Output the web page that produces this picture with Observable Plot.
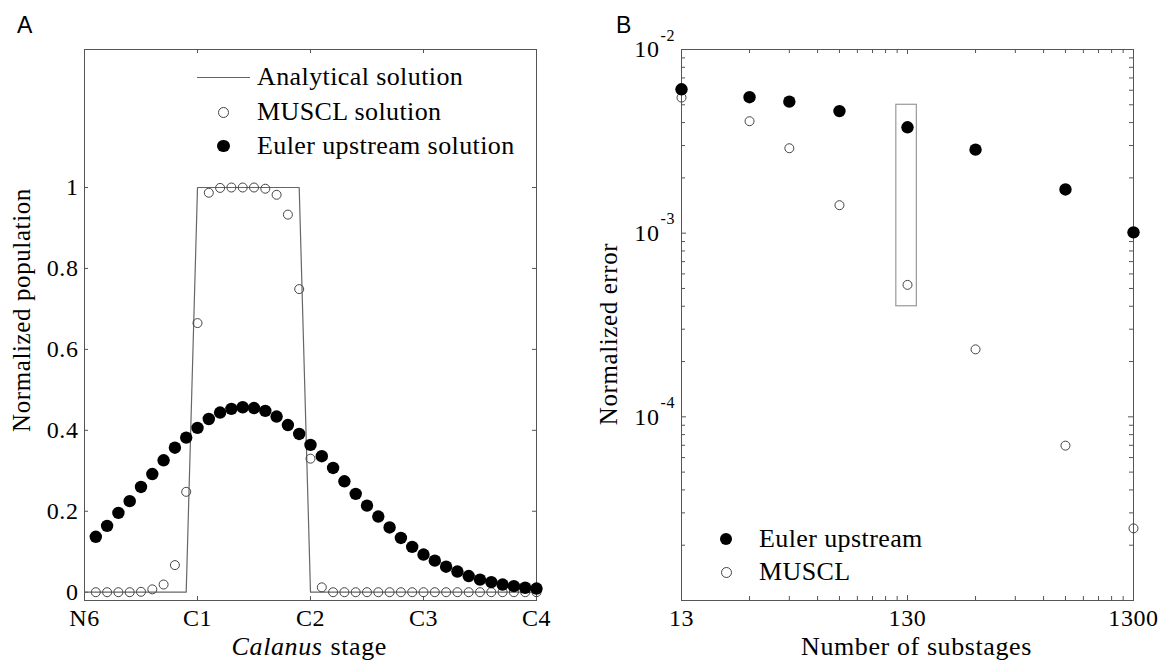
<!DOCTYPE html>
<html>
<head>
<meta charset="utf-8">
<script src="https://cdn.jsdelivr.net/npm/d3@7"></script>
<script src="https://cdn.jsdelivr.net/npm/@observablehq/plot@0.6"></script>
<style>
  body { margin: 0; background: #fff; }
  #wrap { position: relative; width: 1161px; height: 666px; overflow: hidden; font-family: "Liberation Serif", "LiberationSerif", "Tinos", "Times New Roman", Times, "DejaVu Serif", serif; color: #000; }
  .panel { position: absolute; top: 0; }
  .plabel { position: absolute; font-family: "Liberation Sans", Arial, sans-serif; font-size: 23px; line-height: 1; }
  .legrow { position: absolute; height: 26px; display: flex; align-items: center; font-size: 26px; letter-spacing: 0.4px; line-height: 26px; white-space: nowrap; }
  .sw { display: flex; align-items: center; justify-content: center; height: 26px; }
  .ln { height: 0; border-top: 1.2px solid #666; width: 100%; }
  .open { width: 9px; height: 9px; border: 1px solid #444; border-radius: 50%; background: transparent; }
  .fill { width: 12.5px; height: 12.5px; border-radius: 50%; background: #000; }
</style>
</head>
<body>
<div id="wrap">
  <div id="pa" class="panel" style="left:0"></div>
  <div id="pb" class="panel" style="left:580px"></div>
  <div class="plabel" style="left:17px; top:14px;">A</div>
  <div class="plabel" style="left:616px; top:14px;">B</div>

  <div class="legrow" style="left:197px; top:64px;"><div class="sw" style="width:53px"><div class="ln"></div></div><span style="margin-left:7px">Analytical solution</span></div>
  <div class="legrow" style="left:197px; top:99px;"><div class="sw" style="width:53px"><div class="open"></div></div><span style="margin-left:7px">MUSCL solution</span></div>
  <div class="legrow" style="left:197px; top:133px;"><div class="sw" style="width:53px"><div class="fill"></div></div><span style="margin-left:7px">Euler upstream solution</span></div>

  <div class="legrow" style="left:714px; top:526px;"><div class="sw" style="width:24px"><div class="fill"></div></div><span style="margin-left:21px">Euler upstream</span></div>
  <div class="legrow" style="left:714px; top:559px;"><div class="sw" style="width:24px"><div class="open"></div></div><span style="margin-left:21px">MUSCL</span></div>
</div>
<script>
// ---------- Panel A data ----------
const stageLabels = ["N6", "C1", "C2", "C3", "C4"];
const stageTicks = [0, 1, 2, 3, 4];
const popTicks = [0, 0.2, 0.4, 0.6, 0.8, 1];
const substage = [0.1,0.2,0.3,0.4,0.5,0.6,0.7,0.8,0.9,1.0,1.1,1.2,1.3,1.4,1.5,1.6,1.7,1.8,1.9,2.0,
                  2.1,2.2,2.3,2.4,2.5,2.6,2.7,2.8,2.9,3.0,3.1,3.2,3.3,3.4,3.5,3.6,3.7,3.8,3.9,4.0];
const eulerPop = [0.137,0.164,0.196,0.225,0.260,0.292,0.326,0.357,0.382,0.406,
                  0.428,0.444,0.453,0.457,0.455,0.448,0.434,0.413,0.391,0.364,
                  0.336,0.307,0.274,0.243,0.214,0.187,0.160,0.134,0.112,0.093,
                  0.078,0.063,0.051,0.040,0.031,0.025,0.019,0.015,0.011,0.009];
const musclPop = [0,0,0,0,0.001,0.007,0.019,0.067,0.248,0.665,
                  0.987,0.999,1,1,1,0.997,0.982,0.933,0.749,0.33,
                  0.012,0,0,0,0,0,0,0,0,0,
                  0,0,0,0,0,0,0,0,0,0];
const analyticX = [0, 0.9, 1.0, 1.9, 2.0, 4.0];
const analyticY = [0, 0, 1, 1, 0, 0];

// ---------- Panel B data ----------
const substeps = [13, 26, 39, 65, 130, 260, 650, 1300];
const eulerErr = [6.07e-3, 5.5e-3, 5.2e-3, 4.62e-3, 3.77e-3, 2.85e-3, 1.73e-3, 1.01e-3];
const musclErr = [5.47e-3, 4.07e-3, 2.90e-3, 1.42e-3, 5.23e-4, 2.33e-4, 6.97e-5, 2.47e-5];
const boxX = [116, 143];
const boxY = [4.0e-4, 5.0e-3];
const xLabelsB = [13, 130, 1300];
const xMinorB = [26, 39, 52, 65, 78, 91, 104, 117, 260, 390, 520, 650, 780, 910, 1040, 1170];
const yLabelsB = [1e-4, 1e-3, 1e-2];
const yMinorB = [2e-5,3e-5,4e-5,5e-5,6e-5,7e-5,8e-5,9e-5,
                 2e-4,3e-4,4e-4,5e-4,6e-4,7e-4,8e-4,9e-4,
                 2e-3,3e-3,4e-3,5e-3,6e-3,7e-3,8e-3,9e-3];

// ---------- build tables ----------
const eulerA = substage.map((x, i) => ({x, y: eulerPop[i]}));
const musclA = substage.map((x, i) => ({x, y: musclPop[i]}));
const analytic = analyticX.map((x, i) => ({x, y: analyticY[i]}));
const eulerB = substeps.map((x, i) => ({x, y: eulerErr[i]}));
const musclB = substeps.map((x, i) => ({x, y: musclErr[i]}));

const serif = "'Liberation Serif', 'LiberationSerif', 'Tinos', 'Times New Roman', Times, 'DejaVu Serif', serif";
const frameColor = "#555";
const H = 666, MT = 49, MB = 66;
const FH = H - MT - MB;
const baseStyle = {fontFamily: serif, fontSize: "24px", letterSpacing: "0.6px", background: "transparent", color: "#000", overflow: "visible"};

// ---------- Panel A ----------
const WA = 580, MLA = 84, MRA = 44, FWA = WA - MLA - MRA;
const tA = 4;
const plotA = Plot.plot({
  width: WA, height: H,
  marginLeft: MLA, marginRight: MRA, marginTop: MT, marginBottom: MB,
  style: baseStyle,
  x: {domain: [0, 4], axis: null},
  y: {domain: [-0.0205, 1.341], axis: null},
  marks: [
    Plot.axisX({ticks: stageTicks, tickFormat: i => stageLabels[i], tickSize: 0, tickPadding: 8, label: null}),
    Plot.axisY({ticks: popTicks, tickFormat: d => String(d), tickSize: 0, tickPadding: 6, label: null}),
    Plot.tickX(stageTicks, {x: d => d, insetTop: FH - tA, stroke: frameColor}),
    Plot.tickX(stageTicks, {x: d => d, insetBottom: FH - tA, stroke: frameColor}),
    Plot.tickY(popTicks, {y: d => d, insetRight: FWA - tA, stroke: frameColor}),
    Plot.tickY(popTicks, {y: d => d, insetLeft: FWA - tA, stroke: frameColor}),
    Plot.frame({stroke: frameColor}),
    Plot.line(analytic, {x: "x", y: "y", stroke: "#666", strokeWidth: 1.2}),
    Plot.dot(musclA, {x: "x", y: "y", r: 4.5, stroke: "#444", strokeWidth: 1, fill: "none"}),
    Plot.dot(eulerA, {x: "x", y: "y", r: 6.2, fill: "#000", stroke: "none"}),
    Plot.text(["Normalized population"], {text: d => d, frameAnchor: "left", textAnchor: "middle", rotate: -90, dx: -63, dy: -15, fontSize: 25}),
    Plot.text(["Calanus"], {text: d => d, frameAnchor: "bottom", textAnchor: "end", dx: 12, dy: 54, fontSize: 26, fontStyle: "italic"}),
    Plot.text(["stage"], {text: d => d, frameAnchor: "bottom", textAnchor: "start", dx: 20, dy: 54, fontSize: 26})
  ]
});
document.getElementById("pa").append(plotA);

// ---------- Panel B ----------
const WB = 581, MLB = 101, MRB = 28, FWB = WB - MLB - MRB;
const tMaj = 5, tMin = 4;
const plotB = Plot.plot({
  width: WB, height: H,
  marginLeft: MLB, marginRight: MRB, marginTop: MT, marginBottom: MB,
  style: baseStyle,
  x: {type: "log", domain: [13, 1300], axis: null},
  y: {type: "log", domain: [1e-5, 1e-2], axis: null},
  marks: [
    Plot.axisX({ticks: xLabelsB, tickFormat: d => String(d), tickSize: 0, tickPadding: 8, label: null}),
    Plot.tickX(xLabelsB, {x: d => d, insetTop: FH - tMaj, stroke: frameColor}),
    Plot.tickX(xLabelsB, {x: d => d, insetBottom: FH - tMaj, stroke: frameColor}),
    Plot.tickX(xMinorB, {x: d => d, insetTop: FH - tMin, stroke: frameColor}),
    Plot.tickX(xMinorB, {x: d => d, insetBottom: FH - tMin, stroke: frameColor}),
    Plot.tickY(yLabelsB, {y: d => d, insetRight: FWB - tMaj, stroke: frameColor}),
    Plot.tickY(yLabelsB, {y: d => d, insetLeft: FWB - tMaj, stroke: frameColor}),
    Plot.tickY(yMinorB, {y: d => d, insetRight: FWB - tMin, stroke: frameColor}),
    Plot.tickY(yMinorB, {y: d => d, insetLeft: FWB - tMin, stroke: frameColor}),
    Plot.text(yLabelsB, {y: d => d, text: () => "10", frameAnchor: "left", textAnchor: "end", dx: -22, fontSize: 24}),
    Plot.text(yLabelsB, {y: d => d, text: d => String(Math.round(Math.log10(d))), frameAnchor: "left", textAnchor: "start", dx: -21, dy: -14, fontSize: 16}),
    Plot.frame({stroke: frameColor}),
    Plot.rect([{x1: boxX[0], x2: boxX[1], y1: boxY[0], y2: boxY[1]}], {x1: "x1", x2: "x2", y1: "y1", y2: "y2", fill: "none", stroke: "#999", strokeWidth: 1.2}),
    Plot.dot(musclB, {x: "x", y: "y", r: 4.5, stroke: "#444", strokeWidth: 1, fill: "none"}),
    Plot.dot(eulerB, {x: "x", y: "y", r: 6.2, fill: "#000", stroke: "none"}),
    Plot.text(["Normalized error"], {text: d => d, frameAnchor: "left", textAnchor: "middle", rotate: -90, dx: -73, dy: 9, fontSize: 25}),
    Plot.text(["Number of substages"], {text: d => d, frameAnchor: "bottom", textAnchor: "middle", dx: 9, dy: 54, fontSize: 26})
  ]
});
document.getElementById("pb").append(plotB);
</script>
</body>
</html>
